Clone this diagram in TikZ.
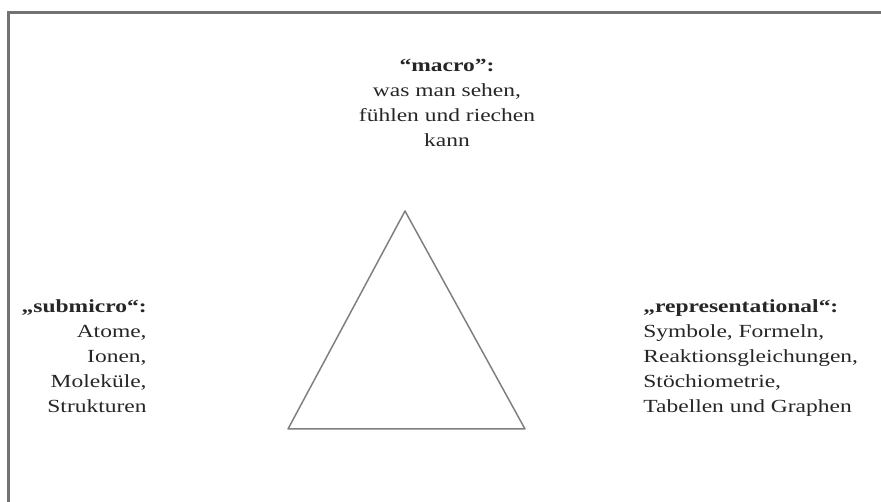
\documentclass[tikz,border=0pt]{standalone}
\usepackage{fontspec}
\setmainfont[FakeStretch=1.27]{Liberation Serif}
\begin{document}
\begin{tikzpicture}[x=1pt, y=-1pt, thick, main/.style = {font=\fontsize{18.5}{25}\selectfont, inner sep=0pt, text=black!85}, frame/.style = {draw=black!55, line width=2.5pt}, tri/.style = {draw=black!50, line width=1.5pt, line join=round}]
            \useasboundingbox (0,0) rectangle (881,502);
            \coordinate (a) at (881,12.5);
            \coordinate (b) at (8.5,12.5);
            \coordinate (c) at (8.5,502);
            \draw[frame] (a) -- (b) -- (c);
            \coordinate (1) at (405,211);
            \coordinate (2) at (288,429);
            \coordinate (3) at (525,429);
            \draw[tri] (1) -- (2) -- (3) -- cycle;
            \node[main, anchor=north, align=center] (4) at (447,59) {{\bfseries “macro”:}\\was man sehen,\\fühlen und riechen\\kann};
            \node[main, anchor=north east, align=right] (5) at (147,299.5) {{\bfseries „submicro“:}\\Atome,\\Ionen,\\Moleküle,\\Strukturen};
            \node[main, anchor=north west, align=left] (6) at (643,299.5) {{\bfseries „representational“:}\\Symbole, Formeln,\\Reaktionsgleichungen,\\Stöchiometrie,\\Tabellen und Graphen};
        \end{tikzpicture}
\end{document}
